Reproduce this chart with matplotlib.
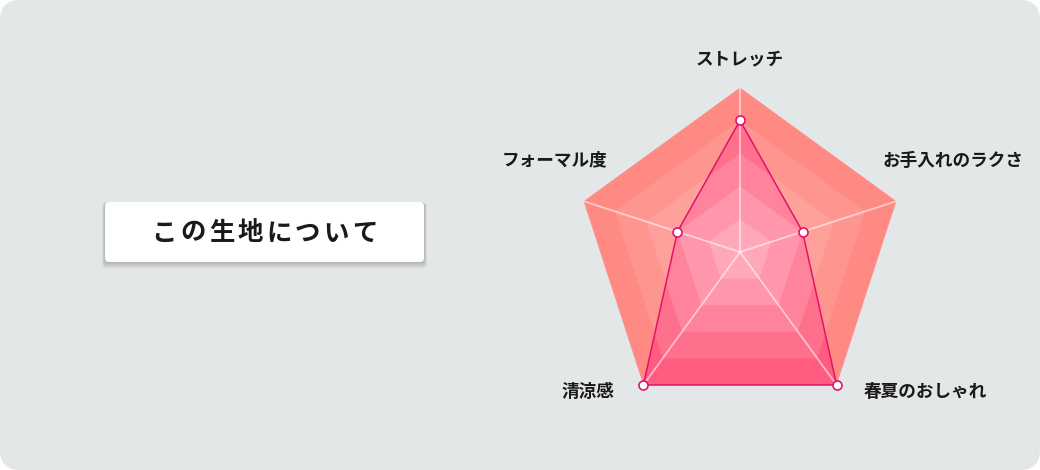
import numpy as np
import matplotlib.pyplot as plt
from matplotlib.patches import FancyBboxPatch

plt.rcParams['font.family'] = ['Noto Sans CJK JP', 'DejaVu Sans']

# --- data ---
title = 'この生地について'
labels = ['ストレッチ', 'お手入れのラクさ', '春夏のおしゃれ', '清涼感', 'フォーマル度']
scores = [4, 2, 5, 5, 2]
levels = [1, 2, 3, 4, 5]

# ring colours, index = level-1 (outside / inside the score area)
ring_out = ['#FFBBB5', '#FFAEA8', '#FFA19B', '#FF958F', '#FF8A84']
ring_in = ['#FFA8BA', '#FF96AC', '#FF839B', '#FF708D', '#FF5C7F']
line_col = '#E2136A'

W, H = 1040, 470
fig = plt.figure(figsize=(W / 100, H / 100), dpi=100)
fig.patch.set_facecolor('white')

# background panel + title box, in pixel coords
bg = fig.add_axes([0, 0, 1, 1])
bg.set_xlim(0, W)
bg.set_ylim(H, 0)
bg.axis('off')
bg.add_patch(FancyBboxPatch((20, 20), W - 40, H - 40, boxstyle='round,pad=20',
                            fc='#E4E7E8', ec='none'))

bx, by, bw, bh = 105, 202, 319, 60
for k in range(1, 7):
    bg.add_patch(FancyBboxPatch((bx + 4 - k * 0.5, by + 4 + k * 0.6 - k * 0.5), bw - 8 + k, bh - 8 + k,
                                boxstyle='round,pad=4', fc='black', ec='none', alpha=0.035))
bg.add_patch(FancyBboxPatch((bx + 4, by + 4), bw - 8, bh - 8, boxstyle='round,pad=4',
                            fc='white', ec='none'))
step = 28.7
x0 = bx + bw / 2 - step * (len(title) - 1) / 2
for i, ch in enumerate(title):
    bg.text(x0 + i * step, by + bh / 2 + 1, ch, ha='center', va='center',
            fontsize=18.3, fontweight='bold', color='#1a1a1a')

# --- radar ---
cx, cy, R = 740, 252, 164.4
ax = fig.add_axes([(cx - R) / W, 1 - (cy + R) / H, 2 * R / W, 2 * R / H], projection='polar')
ax.set_theta_offset(np.pi / 2)
ax.set_theta_direction(-1)
ax.set_ylim(0, max(levels))
ax.axis('off')
ax.patch.set_alpha(0)

n = len(labels)
ang = np.linspace(0, 2 * np.pi, n, endpoint=False)
ang_c = np.append(ang, ang[0])

for lv in levels[::-1]:
    ax.fill(ang_c, [lv] * (n + 1), color=ring_out[lv - 1], lw=0, zorder=1)

sc = np.append(scores, scores[0])
area = ax.fill(ang_c, sc, color='none', lw=0, zorder=2)[0]
for lv in levels[::-1]:
    p = ax.fill(ang_c, [lv] * (n + 1), color=ring_in[lv - 1], lw=0, zorder=2)[0]
    p.set_clip_path(area)

for a in ang:
    ax.plot([a, a], [0, max(levels)], color='white', lw=1.3, alpha=0.55, zorder=3)

ax.plot(ang_c, sc, color=line_col, lw=1.1, zorder=4)
ax.plot(ang, scores, 'o', ms=6.5, mfc='white', mec=line_col, mew=1.2, zorder=5, clip_on=False)

label_offsets = [(0, 27), (57, 40), (89, -7), (-55, -7), (-29, 41)]
for a, lab, off in zip(ang, labels, label_offsets):
    ax.annotate(lab, xy=(a, max(levels)), xytext=off, textcoords='offset pixels',
                ha='center', va='center', fontsize=12.7, fontweight='bold', color='#1a1a1a',
                annotation_clip=False)

fig.savefig('out.png', dpi=100)
